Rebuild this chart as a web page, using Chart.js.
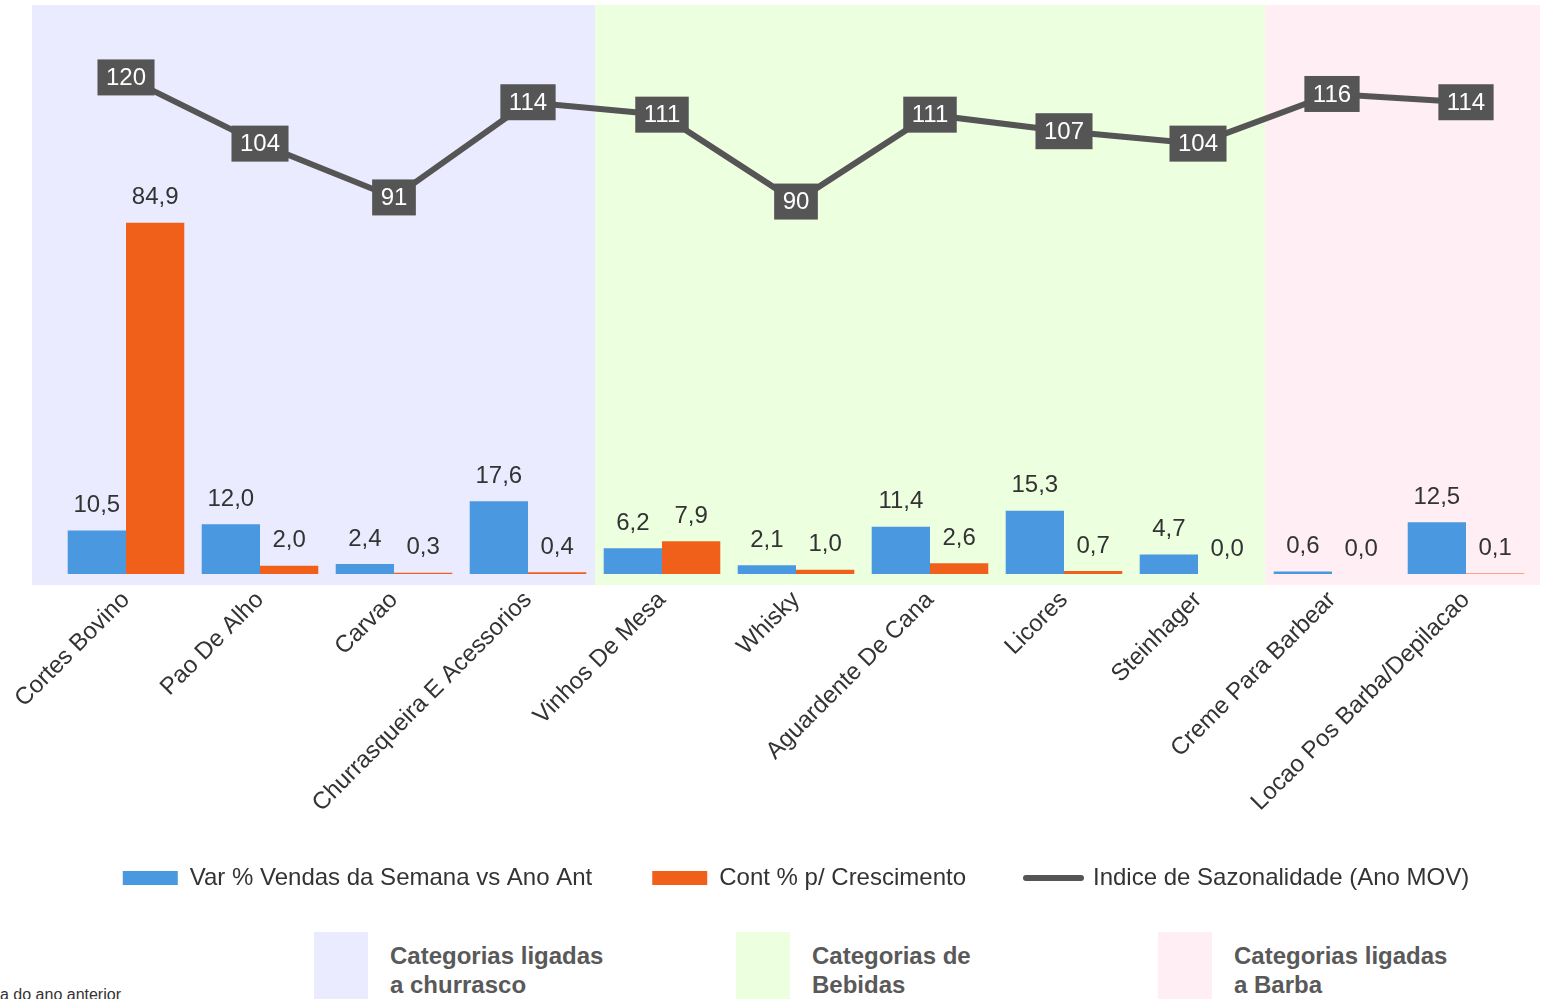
<!DOCTYPE html>
<html>
<head>
<meta charset="utf-8">
<script src="https://cdn.jsdelivr.net/npm/chart.js@4/dist/chart.umd.min.js"></script>
<style>
  html, body { margin: 0; padding: 0; background: #fff; }
  body { width: 1550px; height: 999px; position: relative; overflow: hidden;
         font-family: "Liberation Sans", Arial, sans-serif; }
  #wrap { position: absolute; left: 0; top: 0; width: 1550px; height: 900px; }
  .key { position: absolute; top: 932px; width: 54px; height: 70px; }
  .keytxt { position: absolute; top: 941px; font-weight: bold; font-size: 24px;
            line-height: 29px; color: #595959; }
  #note { position: absolute; left: 0; top: 986px; font-size: 16px; color: #333; }
</style>
</head>
<body>
<div id="wrap"><canvas id="chart"></canvas></div>

<div class="key" style="left:314px;background:#ebebff"></div>
<div class="keytxt" style="left:390px">Categorias ligadas<br>a churrasco</div>
<div class="key" style="left:736px;background:#ecffdf"></div>
<div class="keytxt" style="left:812px">Categorias de<br>Bebidas</div>
<div class="key" style="left:1158px;background:#ffeef3"></div>
<div class="keytxt" style="left:1234px">Categorias ligadas<br>a Barba</div>
<div id="note">a do ano anterior</div>

<script>
// categories and series
const categories = [
  "Cortes Bovino", "Pao De Alho", "Carvao", "Churrasqueira E Acessorios",
  "Vinhos De Mesa", "Whisky", "Aguardente De Cana", "Licores",
  "Steinhager", "Creme Para Barbear", "Locao Pos Barba/Depilacao",
];
const varVendas = [10.5, 12.0, 2.4, 17.6, 6.2, 2.1, 11.4, 15.3, 4.7, 0.6, 12.5];
const contCrescimento = [84.9, 2.0, 0.3, 0.4, 7.9, 1.0, 2.6, 0.7, 0.0, 0.0, 0.1];
const indiceSazonalidade = [120, 104, 91, 114, 111, 90, 111, 107, 104, 116, 114];

// background groups (first/last category index)
const groupRanges = [[0, 3], [4, 8], [9, 10]];
const groupColors = ["#ebebff", "#ecffdf", "#ffeef3"];

const FONT = "'Liberation Sans', Arial, sans-serif";
const fmt = (v) => v.toFixed(1).replace(".", ",");

// shaded category groups behind the bars
const bandsPlugin = {
  id: "bands",
  beforeDatasetsDraw(chart) {
    const { ctx, chartArea } = chart;
    const x = chart.scales.x;
    const half = (x.getPixelForValue(1) - x.getPixelForValue(0)) / 2;
    ctx.save();
    groupRanges.forEach(([a, b], i) => {
      let left = x.getPixelForValue(a) - half;
      let right = x.getPixelForValue(b) + half;
      if (i === 0) left -= 27;
      if (i === groupRanges.length - 1) right += 7;
      ctx.fillStyle = groupColors[i];
      ctx.fillRect(left, chartArea.top, right - left, chartArea.bottom - chartArea.top + 11);
    });
    ctx.restore();
  },
};

// value labels: plain text over bars, dark boxes on the line
const labelsPlugin = {
  id: "valueLabels",
  afterDatasetsDraw(chart) {
    const { ctx } = chart;
    ctx.save();
    ctx.font = "24px " + FONT;
    ctx.textAlign = "center";
    ctx.textBaseline = "middle";
    chart.data.datasets.forEach((ds, di) => {
      const meta = chart.getDatasetMeta(di);
      if (ds.type === "line") return;
      meta.data.forEach((el, i) => {
        ctx.fillStyle = "#333";
        ctx.fillText(fmt(ds.data[i]), el.x, el.y - 25);
      });
    });
    chart.data.datasets.forEach((ds, di) => {
      if (ds.type !== "line") return;
      const meta = chart.getDatasetMeta(di);
      meta.data.forEach((el, i) => {
        const txt = String(ds.data[i]);
        const w = ctx.measureText(txt).width + 17;
        const h = 36;
        ctx.fillStyle = "#555555";
        ctx.fillRect(el.x - w / 2, el.y - h / 2, w, h);
        ctx.fillStyle = "#ffffff";
        ctx.fillText(txt, el.x, el.y + 1);
      });
    });
    ctx.restore();
  },
};

new Chart(document.getElementById("chart"), {
  data: {
    labels: categories,
    datasets: [
      {
        type: "bar",
        label: "Var % Vendas da Semana vs Ano Ant",
        data: varVendas,
        backgroundColor: "#4a98e0",
        order: 1,
      },
      {
        type: "bar",
        label: "Cont % p/ Crescimento",
        data: contCrescimento,
        backgroundColor: "#f0601a",
        order: 1,
      },
      {
        type: "line",
        label: "Indice de Sazonalidade (Ano MOV)",
        data: indiceSazonalidade,
        borderColor: "#555555",
        backgroundColor: "#555555",
        borderWidth: 6,
        borderCapStyle: "round",
        pointRadius: 0,
        tension: 0,
        order: 0,
      },
    ],
  },
  options: {
    responsive: true,
    maintainAspectRatio: false,
    animation: false,
    datasets: { bar: { categoryPercentage: 0.87, barPercentage: 1.0 } },
    layout: { padding: { top: 5, left: 59, right: 17, bottom: 0 } },
    scales: {
      x: {
        grid: { drawOnChartArea: false, color: "#d9d9d9", tickLength: 8, lineWidth: 2 },
        border: { color: "#d9d9d9", width: 2 },
        ticks: {
          color: "#333",
          font: { family: FONT, size: 24 },
          minRotation: 45,
          maxRotation: 45,
          padding: 4,
        },
        afterFit(scale) {
          scale.height = 232;
          // long rotated names run past the axis box, don't clip them
          scale._computeLabelArea = () => undefined;
        },
      },
      y: { display: false, min: 0, max: 137.5 },
    },
    plugins: {
      tooltip: { enabled: false },
      legend: {
        position: "bottom",
        labels: {
          color: "#333",
          font: { family: FONT, size: 24 },
          usePointStyle: true,
          pointStyleWidth: 55,
          boxHeight: 14,
          padding: 60,
          generateLabels(chart) {
            const items = Chart.defaults.plugins.legend.labels.generateLabels(chart);
            items.sort((a, b) => a.datasetIndex - b.datasetIndex);
            return items.map((it) => {
              const ds = chart.data.datasets[it.datasetIndex];
              it.pointStyle = ds.type === "line" ? "line" : "rect";
              it.lineWidth = ds.type === "line" ? 6 : 0;
              it.lineCap = "round";
              return it;
            });
          },
        },
      },
    },
  },
  plugins: [bandsPlugin, labelsPlugin],
});
</script>
</body>
</html>
